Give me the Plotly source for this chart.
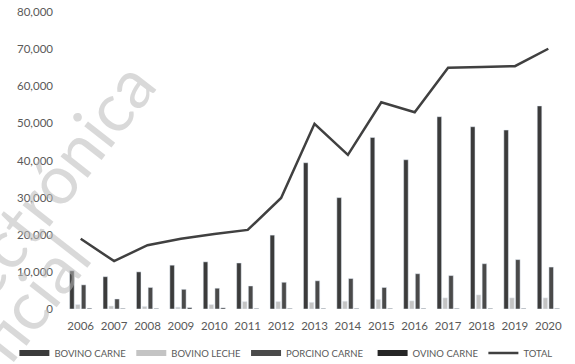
import plotly.graph_objects as go

years = ["2006", "2007", "2008", "2009", "2010", "2011", "2012", "2013",
         "2014", "2015", "2016", "2017", "2018", "2019", "2020"]
bovino_carne = [10300, 8700, 10000, 11800, 12700, 12400, 19900, 39400,
                30000, 46200, 40200, 51800, 49100, 48200, 54700]
bovino_leche = [1200, 800, 700, 500, 1200, 2000, 2000, 1800,
                2100, 2600, 2200, 3000, 3800, 3000, 3000]
porcino_carne = [6500, 2700, 5800, 5300, 5600, 6200, 7200, 7600,
                 8200, 5800, 9500, 9000, 12200, 13300, 11300]
ovino_carne = [200, 150, 150, 350, 300, 150, 150, 150,
               150, 150, 150, 150, 150, 150, 150]
total = [18900, 12900, 17200, 18900, 20200, 21300, 29900, 49900,
         41500, 55700, 53000, 65000, 65200, 65400, 70100]
y_ticks = [0, 10000, 20000, 30000, 40000, 50000, 60000, 70000, 80000]

names = ["BOVINO CARNE", "BOVINO LECHE", "PORCINO CARNE", "OVINO CARNE"]
colors = ["#3b3b3b", "#c4c4c4", "#4a4a4a", "#262626"]
series = [bovino_carne, bovino_leche, porcino_carne, ovino_carne]
legend_ids = ["legend", "legend", "legend", "legend2"]

FONT = "Lato"
fig = go.Figure()
for nm, col, vals in zip(names, colors, series):
    fig.add_bar(x=years, y=vals, name=nm, marker_color=col,
                legendgroup=nm, showlegend=False)
# legend swatches drawn as thick lines (wide rectangles like the reference)
for nm, col, lg in zip(names, colors, legend_ids):
    fig.add_scatter(x=[None], y=[None], name=nm, mode="lines", legend=lg,
                    legendgroup=nm, line=dict(color=col, width=6))
fig.add_scatter(x=years, y=total, name="TOTAL", mode="lines", legend="legend2",
                line=dict(color="#404040", width=2.5))

# plot area in pixels: x 64..565, y 12..309
def px(xp):
    return (xp - 64) / 501.0

def py(yp):
    return (309 - yp) / 297.0

wm = "rgba(185,185,185,0.55)"
fig.add_annotation(text="Electrónica", xref="paper", yref="paper",
                   x=px(36), y=py(200), xanchor="center", yanchor="middle",
                   showarrow=False, textangle=-52,
                   font=dict(family=FONT, size=68, color=wm))
fig.add_annotation(text="Oficial", xref="paper", yref="paper",
                   x=px(14), y=py(318), xanchor="center", yanchor="middle",
                   showarrow=False, textangle=-52,
                   font=dict(family=FONT, size=68, color=wm))

leg_common = dict(orientation="h", xref="container", yref="container",
                  xanchor="left", y=0.03, yanchor="middle",
                  font=dict(family=FONT, size=9.5, color="#595959"),
                  itemwidth=30, tracegroupgap=0, bgcolor="rgba(0,0,0,0)")

fig.update_layout(
    width=575, height=364,
    margin=dict(l=64, r=10, t=12, b=55, autoexpand=False),
    paper_bgcolor="white", plot_bgcolor="white",
    barmode="group", bargap=0.3, bargroupgap=0.22,
    font=dict(family=FONT, size=11, color="#595959"),
    showlegend=True,
    legend=dict(x=0.025, **leg_common),
    legend2=dict(x=0.648, **leg_common),
    xaxis=dict(showgrid=False, showline=False, ticks="", tickfont=dict(size=11.5),
               range=[-0.5, 14.5], ticklabelstandoff=8),
    yaxis=dict(range=[0, 80000], tickvals=y_ticks, tickformat=",d", showgrid=False,
               zeroline=False, showline=False, ticks="", ticklabelstandoff=10,
               tickfont=dict(size=11.5)),
)
fig.write_html("out.html")
